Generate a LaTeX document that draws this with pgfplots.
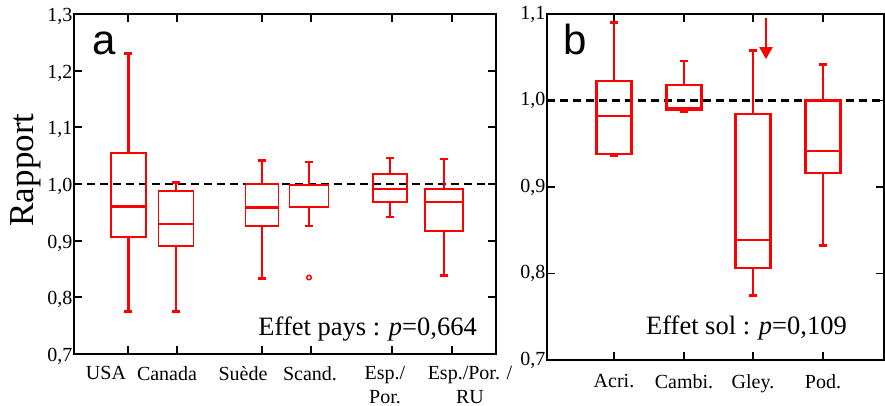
\documentclass[border=0pt]{standalone}
\usepackage{fontspec}
\setmainfont{Liberation Serif}
\newfontfamily\sansf{Liberation Sans}
\usepackage{pgfplots}
\pgfplotsset{compat=1.18}
\usepgfplotslibrary{statistics}
\usetikzlibrary{arrows.meta}

\pgfplotsset{
  panel/.style={
    scale only axis, anchor=south west,
    axis line style={line width=1.8pt},
    tick style={black, line width=1.8pt},
    major tick length=8pt, tick align=inside,
    clip=false,
    /pgf/number format/assume math mode=true,
    yticklabel style={font=\fontsize{20}{24}\selectfont, inner sep=1.5pt,
      /pgf/number format/fixed, /pgf/number format/fixed zerofill,
      /pgf/number format/precision=1, /pgf/number format/use comma},
    xticklabel style={font=\fontsize{20}{24}\selectfont, align=center, inner sep=0pt, yshift=-12pt},
    extra x tick style={major tick length=0pt},
    boxplot/draw direction=y,
    boxplot/every box/.style={line width=1.9pt},
    boxplot/every whisker/.style={line width=2.6pt},
    boxplot/every median/.style={line width=2.6pt},
  },
  bx/.style={red, line width=1.9pt},
}

\begin{document}
\begin{tikzpicture}
\useasboundingbox (0pt,0pt) rectangle (885pt,406pt);

% Panel a (x in units of 50 pt)
\begin{axis}[panel, at={(74pt,52pt)}, width=422pt, height=340pt,
  xmin=0, xmax=8.44, ymin=0.7, ymax=1.3, ytick={0.7,0.8,0.9,1.0,1.1,1.2,1.3},
  yticklabel style={yshift=-2.5pt},
  xtick={1.08,2.06,3.76,4.74,6.36,7.56}, xticklabels={},
  extra x ticks={0.64,1.86,3.38,4.72,6.22,7.92},
  extra x tick labels={USA,Canada,Suède,Scand.,Esp./\\Por.,Esp./Por. /\\RU}]
  \addplot[black, line width=1.8pt, dash pattern=on 8pt off 5pt] coordinates {(0,1) (8.44,1)};
  \addplot[bx, boxplot prepared={draw position=1.086, lower whisker=0.775, lower quartile=0.9065, median=0.96, upper quartile=1.055, upper whisker=1.23, box extend=0.70, whisker extend=0.16}] coordinates {};
  \addplot[bx, boxplot/every median/.style={line width=1.9pt}, boxplot prepared={draw position=2.04, lower whisker=0.775, lower quartile=0.8906, median=0.930, upper quartile=0.988, upper whisker=1.003, box extend=0.70, whisker extend=0.16}] coordinates {};
  \addplot[bx, boxplot prepared={draw position=3.76, lower whisker=0.833, lower quartile=0.926, median=0.959, upper quartile=1.0006, upper whisker=1.041, box extend=0.66, whisker extend=0.16}] coordinates {};
  \addplot[bx, boxplot prepared={draw position=4.70, lower whisker=0.926, lower quartile=0.959, median=0.998, upper quartile=0.999, upper whisker=1.039, box extend=0.78, whisker extend=0.16}] coordinates {};
  \addplot[red, only marks, mark=o, mark size=2.3pt, mark options={line width=1.4pt}] coordinates {(4.70,0.835)};
  \addplot[bx, boxplot prepared={draw position=6.32, lower whisker=0.942, lower quartile=0.968, median=0.991, upper quartile=1.017, upper whisker=1.046, box extend=0.68, whisker extend=0.16}] coordinates {};
  \addplot[bx, boxplot prepared={draw position=7.40, lower whisker=0.839, lower quartile=0.9176, median=0.968, upper quartile=0.9906, upper whisker=1.044, box extend=0.76, whisker extend=0.16}] coordinates {};
  \node[anchor=base east, font=\fontsize{26.5}{30}\selectfont, inner sep=0pt] at (axis cs:8.06,0.7335) {Effet pays : \textit{p}=0,664};
\end{axis}

% Panel b (x in units of 50 pt)
\begin{axis}[panel, at={(547pt,46pt)}, width=337pt, height=346pt,
  xmin=0, xmax=6.74, ymin=0.7, ymax=1.1, ytick={0.7,0.8,0.9,1.0,1.1},
  xtick={1.34,2.74,4.12,5.52}, xticklabels={Acri.,Cambi.,Gley.,Pod.},
  xticklabel style={yshift=-2pt},
  boxplot/every box/.style={line width=2.2pt},
  boxplot/every median/.style={line width=2.2pt}]
  \addplot[black, line width=2.1pt, dash pattern=on 8pt off 5pt] coordinates {(0,1) (6.74,1)};
  \addplot[bx, boxplot prepared={draw position=1.34, lower whisker=0.9358, lower quartile=0.9378, median=0.9825, upper quartile=1.0225, upper whisker=1.090, box extend=0.70, whisker extend=0.16}] coordinates {};
  \addplot[bx, boxplot prepared={draw position=2.74, lower whisker=0.987, lower quartile=0.989, median=0.991, upper quartile=1.018, upper whisker=1.0457, box extend=0.70, whisker extend=0.16}] coordinates {};
  \addplot[bx, boxplot prepared={draw position=4.12, lower whisker=0.7748, lower quartile=0.8067, median=0.8387, upper quartile=0.9844, upper whisker=1.058, box extend=0.70, whisker extend=0.16}] coordinates {};
  \addplot[bx, boxplot prepared={draw position=5.52, lower whisker=0.8326, lower quartile=0.9166, median=0.9416, upper quartile=1.0, upper whisker=1.0414, box extend=0.70, whisker extend=0.16}] coordinates {};
  \draw[red, line width=1.8pt, -{Triangle[width=13pt,length=12pt]}] (axis cs:4.38,1.0954) -- (axis cs:4.38,1.0478);
  \node[anchor=base east, font=\fontsize{26.5}{30}\selectfont, inner sep=0pt] at (axis cs:6.0,0.729) {Effet sol : \textit{p}=0,109};
\end{axis}

\node[anchor=base west, inner sep=0pt, font=\sansf\fontsize{42}{46}\selectfont] at (92pt,351pt) {a};
\node[anchor=base west, inner sep=0pt, font=\sansf\fontsize{42}{46}\selectfont] at (563pt,351pt) {b};
\node[rotate=90, anchor=base, inner sep=0pt, font=\fontsize{35}{40}\selectfont] at (33pt,236pt) {Rapport};
\end{tikzpicture}
\end{document}
